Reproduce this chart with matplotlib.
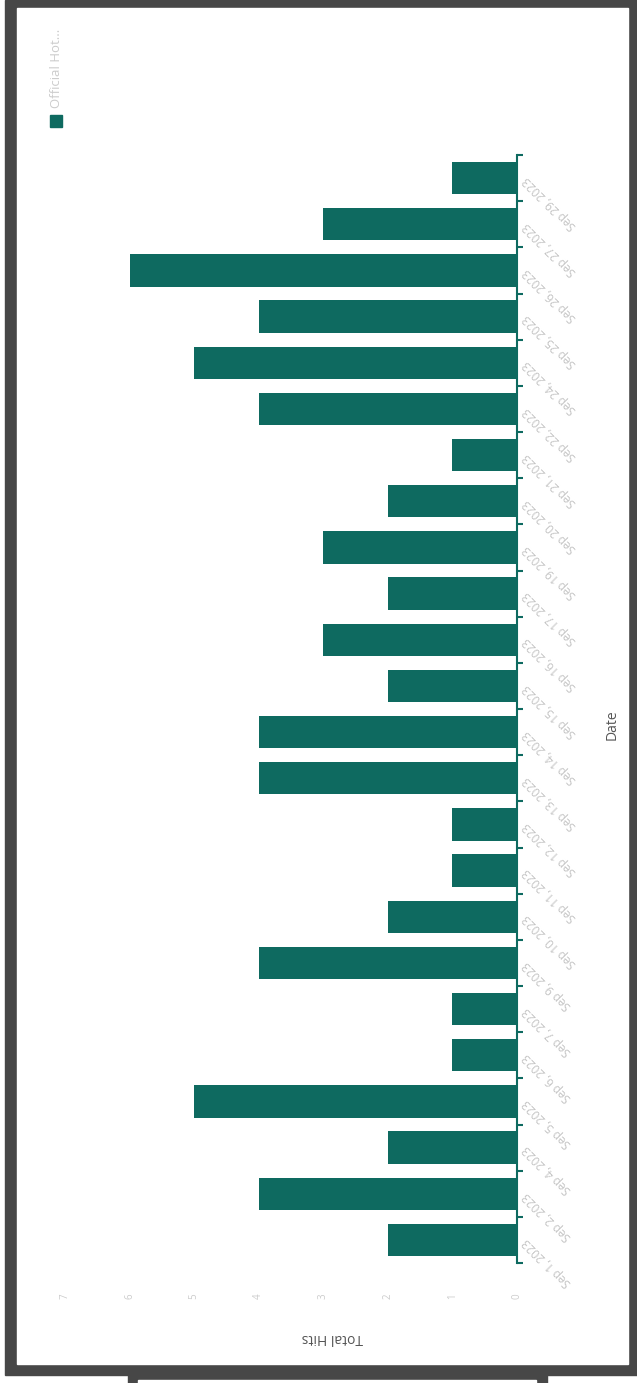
import matplotlib.pyplot as plt
from matplotlib.patches import Rectangle

# data (bottom to top in the picture = chronological order)
dates = ["Sep 1, 2023", "Sep 2, 2023", "Sep 4, 2023", "Sep 5, 2023", "Sep 6, 2023",
         "Sep 7, 2023", "Sep 9, 2023", "Sep 10, 2023", "Sep 11, 2023", "Sep 12, 2023",
         "Sep 13, 2023", "Sep 14, 2023", "Sep 15, 2023", "Sep 16, 2023", "Sep 17, 2023",
         "Sep 19, 2023", "Sep 20, 2023", "Sep 21, 2023", "Sep 22, 2023", "Sep 24, 2023",
         "Sep 25, 2023", "Sep 26, 2023", "Sep 27, 2023", "Sep 29, 2023"]
hits = [2, 4, 2, 5, 1, 1, 4, 2, 1, 1, 4, 4, 2, 3, 2, 3, 2, 1, 4, 5, 4, 6, 3, 1]
value_ticks = [0, 1, 2, 3, 4, 5, 6, 7]
series_name = "Official Hot..."

teal = "#0e6a60"
frame = "#474747"
W, H = 637, 1383

plt.rcParams['font.family'] = ['Open Sans', 'DejaVu Sans']
fig = plt.figure(figsize=(W / 100, H / 100), dpi=100)
fig.patch.set_facecolor("white")

# device frame drawn in pixel coordinates (origin bottom-left)
fig.patches.append(Rectangle((5, 8), 632, 1375, transform=None, color=frame, zorder=-10))
fig.patches.append(Rectangle((17, H - 1364), 611, 1356, transform=None, color="white", zorder=-9))
fig.patches.append(Rectangle((128, 0), 419, 8, transform=None, color=frame, zorder=-10))
fig.patches.append(Rectangle((138, 0), 398, 3, transform=None, color="white", zorder=-9))

# axes box: values 7..0 from x=65 to 517, bands from y=155 to 1263
left, right, top, bottom = 65, 517, 155, 1263
ax = fig.add_axes([left / W, (H - bottom) / H, (right - left) / W, (bottom - top) / H])
ax.set_facecolor("none")

pos = list(range(len(dates)))
ax.barh(pos, hits, height=0.7, color=teal)
ax.set_xlim(7, 0)
ax.set_ylim(-0.5, len(dates) - 0.5)

for s in ["left", "top", "bottom"]:
    ax.spines[s].set_visible(False)
ax.spines["right"].set_color(teal)
ax.spines["right"].set_linewidth(1.5)

ax.yaxis.tick_right()
ax.set_yticks(pos)
ax.set_yticklabels(dates, rotation=135, ha="right", va="center",
                   rotation_mode="anchor", color="#c4c4c4", fontsize=8.5)
ax.set_yticks([p - 0.5 for p in pos] + [len(dates) - 0.5], minor=True)
ax.tick_params(axis="y", which="major", length=0, pad=6)
ax.tick_params(axis="y", which="minor", length=4, width=1.5, color=teal, direction="out")

ax.set_xticks(value_ticks)
ax.set_xticklabels([str(v) for v in value_ticks], rotation=90, color="#cccccc", fontsize=7)
ax.tick_params(axis="x", length=0, pad=22)

fig.text(332 / W, 1 - 1337 / H, "Total Hits", rotation=180, ha="center", va="center",
         color="#555555", fontsize=10)
fig.text(612 / W, 1 - 725 / H, "Date", rotation=90, ha="center", va="center",
         color="#555555", fontsize=10)

# legend, drawn by hand since it is rotated
fig.patches.append(Rectangle((50, H - 127), 12, 12, transform=None, color=teal, zorder=5))
fig.text(56 / W, 1 - 108 / H, series_name, rotation=90, ha="center", va="bottom",
         color="#cccccc", fontsize=9.5)

fig.savefig("out.png", dpi=100)
